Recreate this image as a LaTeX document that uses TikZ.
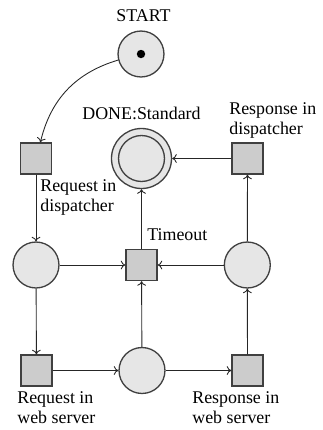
\documentclass[tikz,border=0pt]{standalone}
\usepackage{fontspec}
\setmainfont{Liberation Serif}
\usetikzlibrary{arrows.meta}
\definecolor{placefill}{HTML}{E6E6E6}
\definecolor{transfill}{HTML}{CCCCCC}
\definecolor{edgegray}{HTML}{404040}
\begin{document}
\begin{tikzpicture}[x=0.57pt,y=-0.57pt,
  place/.style={circle,draw=edgegray,line width=0.75pt,fill=placefill,minimum size=26.2pt,inner sep=0pt},
  finalplace/.style={circle,draw=edgegray,line width=0.75pt,fill=placefill,minimum size=34.2pt,inner sep=0pt},
  transition/.style={rectangle,draw=edgegray,line width=0.75pt,fill=transfill,minimum size=17.7pt,inner sep=0pt},
  lbl/.style={inner sep=0pt,font=\fontsize{10.2}{11.4}\selectfont,align=left},
  arc/.style={-{To[length=2.6pt,width=5pt]},draw=black!85,line width=0.5pt}]
\useasboundingbox (0,0) rectangle (322,430);

% places
\node[place] (start) at (141,54) {};
\fill[black] (start.center) circle (2.4pt);
\node[finalplace] (done) at (141.5,158.5) {};
\draw[edgegray,line width=0.75pt] (done.center) circle (13.1pt);
\node[place] (pleft) at (36,265) {};
\node[place] (pright) at (247.3,265) {};
\node[place] (pbottom) at (142,370.5) {};

% transitions
\node[transition] (reqdisp) at (36,158.5) {};
\node[transition] (respdisp) at (247.5,158.5) {};
\node[transition] (timeout) at (141.5,265) {};
\node[transition] (reqweb) at (36.5,370.5) {};
\node[transition] (respweb) at (247.5,370.5) {};

% labels
\node[lbl,anchor=north] (lstart) at (143.5,9) {START};
\node[lbl,anchor=north] (ldone) at (141.5,107) {DONE:Standard};
\node[lbl,anchor=north west] (lreqdisp) at (40,179) {Request in\\dispatcher};
\node[lbl,anchor=north west] (lrespdisp) at (229,102) {Response in\\dispatcher};
\node[lbl,anchor=north west] (ltimeout) at (147,228) {Timeout};
\node[lbl,anchor=north west] (lreqweb) at (17,391) {Request in\\web server};
\node[lbl,anchor=north west] (lrespweb) at (192,391) {Response in\\web server};

% arcs
\draw[arc] (start) to[bend right=30] (reqdisp);
\draw[arc] (reqdisp) -- (pleft);
\draw[arc] (pleft) -- (reqweb);
\draw[arc] (pleft) -- (timeout);
\draw[arc] (reqweb) -- (pbottom);
\draw[arc] (pbottom) -- (respweb);
\draw[arc] (pbottom) -- (timeout);
\draw[arc] (respweb) -- (pright);
\draw[arc] (pright) -- (timeout);
\draw[arc] (pright) -- (respdisp);
\draw[arc] (respdisp) -- (done);
\draw[arc] (timeout) -- (done);
\end{tikzpicture}
\end{document}
